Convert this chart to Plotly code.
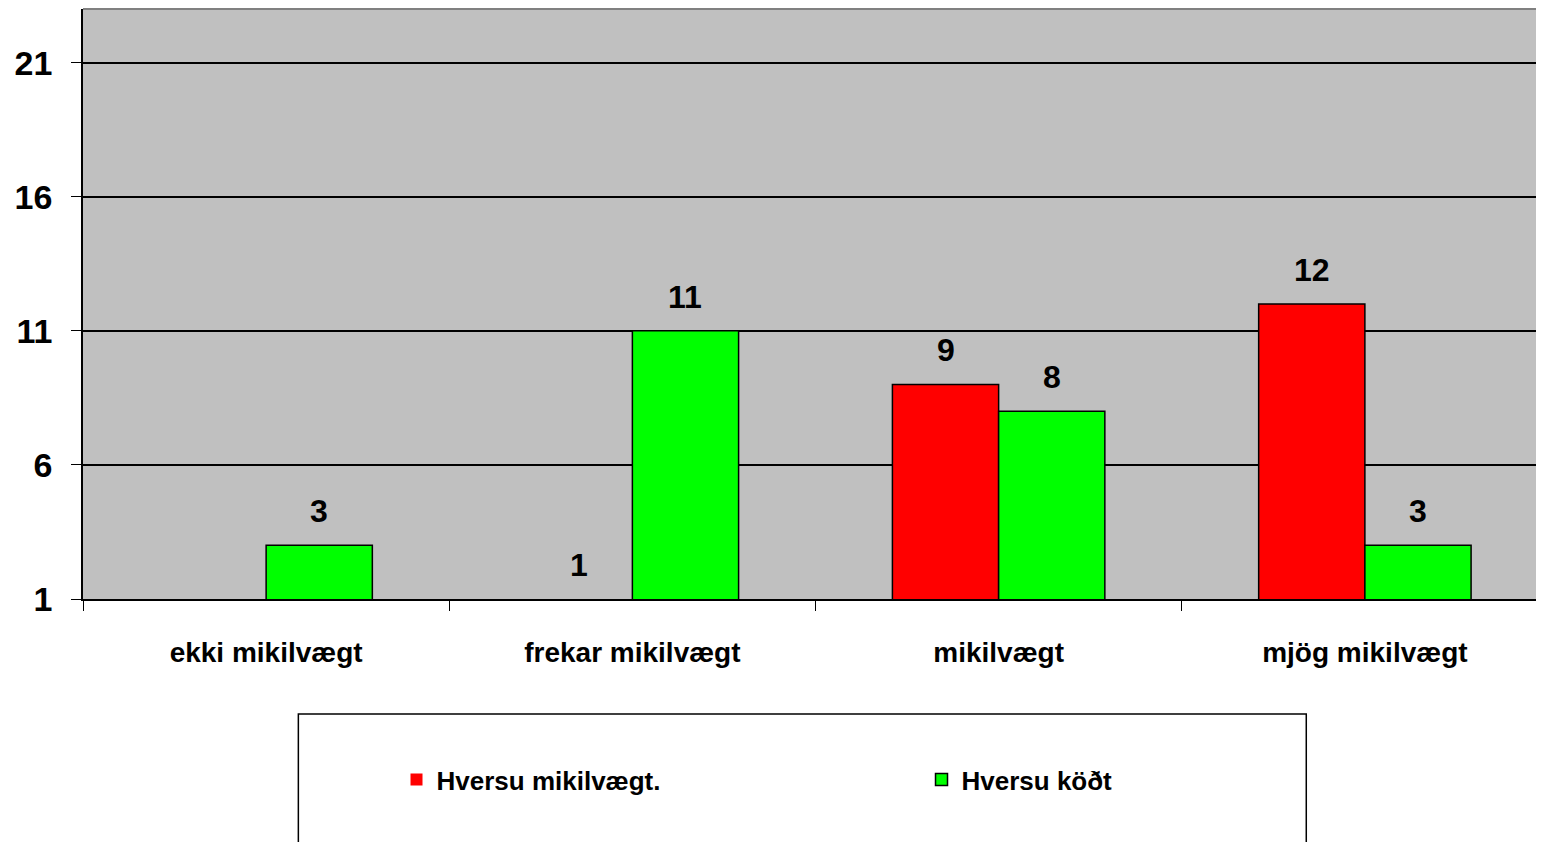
import plotly.graph_objects as go

categories = ["ekki mikilvægt", "frekar mikilvægt", "mikilvægt", "mjög mikilvægt"]
series_names = ["Hversu mikilvægt.", "Hversu köðt"]
importance = [None, 1, 9, 12]
done = [3, 11, 8, 3]
y_ticks = [1, 6, 11, 16, 21]
Y_MIN, Y_MAX = 1, 23

FONT = "Liberation Sans, Arial, sans-serif"

fig = go.Figure()
series = [(series_names[0], importance, "#FF0000", -53),
          (series_names[1], done, "#00FF00", 53)]
for name, vals, color, shift in series:
    fig.add_trace(go.Bar(
        x=categories,
        y=vals,
        name=name,
        marker=dict(color=color, line=dict(
            color="black",
            width=[1.5 if (v is not None and v > Y_MIN) else 0 for v in vals])),
        hoverinfo="x+y+name",
    ))
    # value labels sit well above the bars, as in the original
    for cat, v in zip(categories, vals):
        if v is None:
            continue
        fig.add_annotation(
            x=cat, y=max(v, Y_MIN), xref="x", yref="y",
            text=str(v), showarrow=False,
            xshift=shift, yshift=34, yanchor="middle",
            font=dict(family=FONT, size=32, color="black", weight="bold"),
        )

# legend frame
fig.add_shape(type="rect", xref="paper", yref="paper",
              x0=0.147, x1=0.835, y0=-0.195, y1=-0.5,
              line=dict(color="black", width=1.5), fillcolor="white", layer="below")

fig.update_layout(
    width=1544,
    height=842,
    barmode="group",
    bargap=0.42,
    bargroupgap=0,
    plot_bgcolor="#C0C0C0",
    paper_bgcolor="white",
    # page body adds an 8px offset, so margins are trimmed accordingly
    margin=dict(l=75, r=4, t=1, b=251, autoexpand=False),
    font=dict(family=FONT, color="black"),
    showlegend=True,
    legend=dict(
        orientation="h",
        x=0.214, y=-0.306, xanchor="left", yanchor="middle",
        entrywidth=480, entrywidthmode="pixels",
        font=dict(family=FONT, size=26, weight="bold"),
        bgcolor="rgba(0,0,0,0)",
        itemwidth=30,
    ),
    xaxis=dict(
        automargin=False,
        tickson="boundaries",
        ticks="outside", ticklen=10, tickcolor="black",
        showline=True, linecolor="black", linewidth=1.5,
        tickfont=dict(family=FONT, size=28, weight="bold"),
        ticklabelstandoff=28,
        showgrid=False,
    ),
    yaxis=dict(
        automargin=False,
        range=[Y_MIN, Y_MAX],
        tickvals=y_ticks,
        ticks="outside", ticklen=10, tickcolor="black",
        showline=True, linecolor="black", linewidth=1.5,
        gridcolor="black", gridwidth=1.5,
        tickfont=dict(family=FONT, size=34, weight="bold"),
        ticklabelstandoff=12,
        zeroline=False,
    ),
)

# gray top border of the plot area
fig.add_shape(type="line", xref="paper", yref="paper", x0=0, x1=1, y0=1, y1=1,
              line=dict(color="#808080", width=2))

fig.write_html("out.html")
